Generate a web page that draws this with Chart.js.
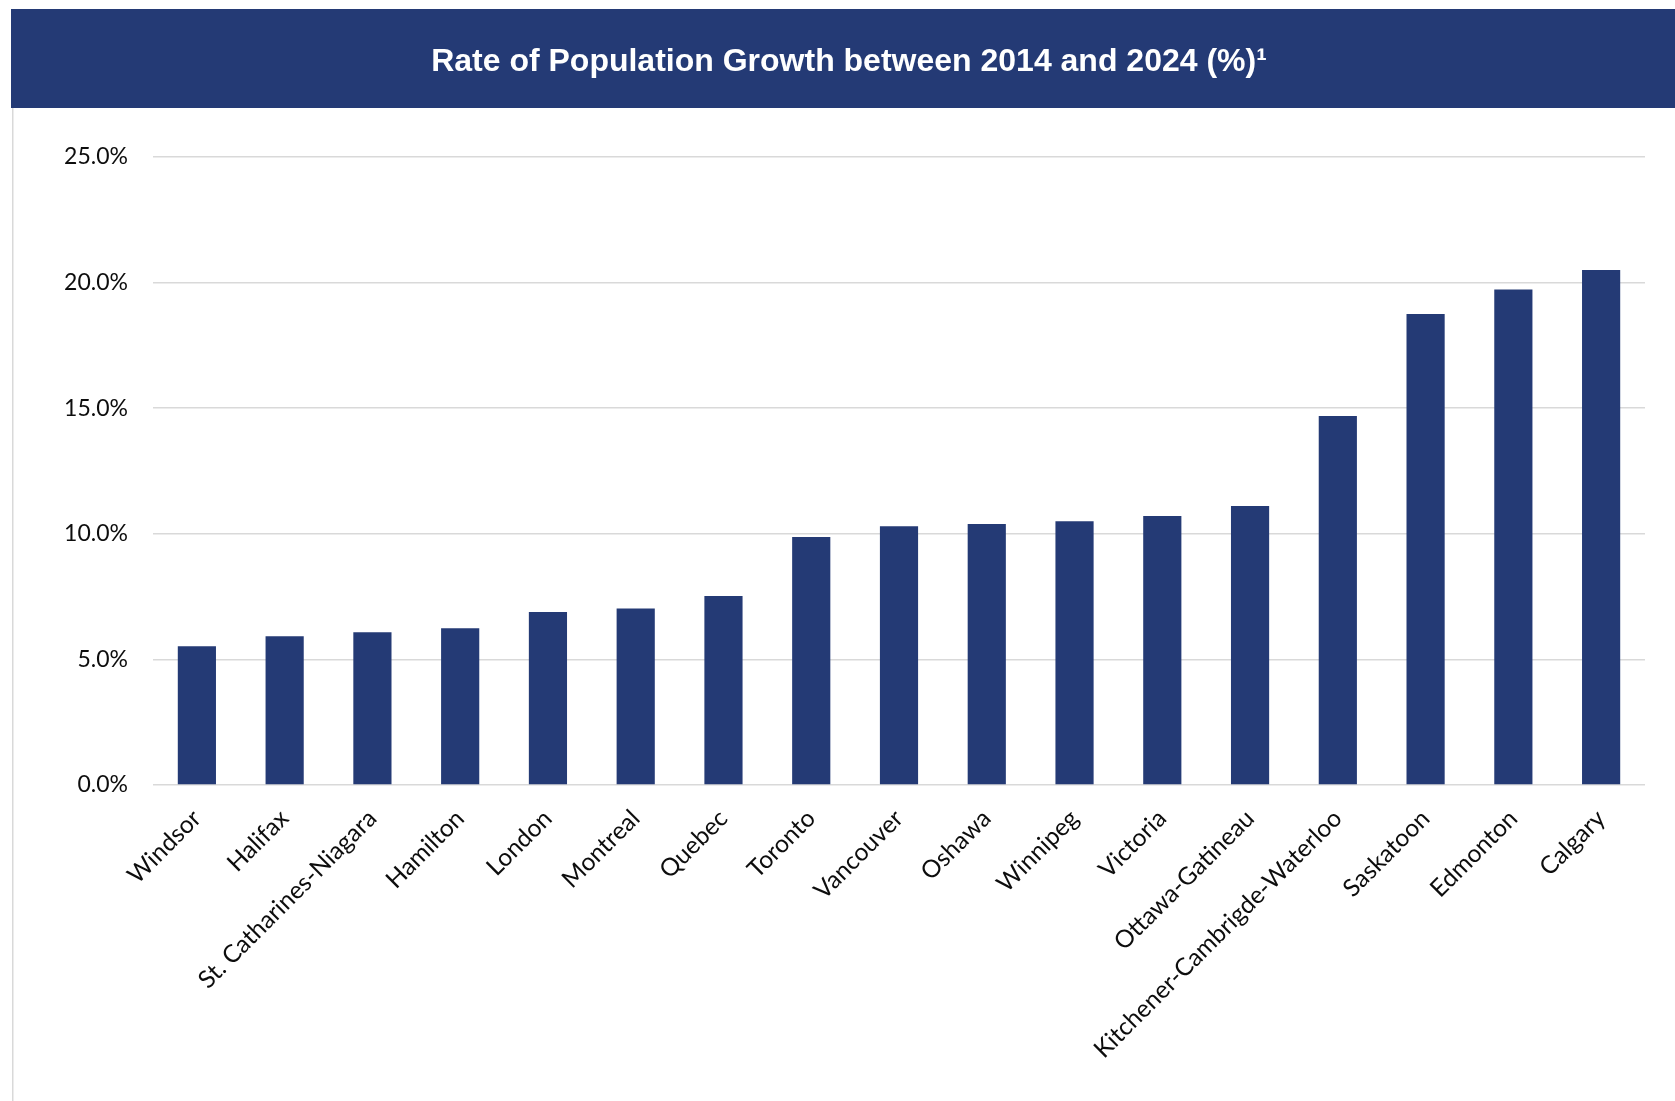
<!DOCTYPE html>
<html>
<head>
<meta charset="utf-8">
<script src="https://cdn.jsdelivr.net/npm/chart.js@4"></script>
<style>
  html, body { margin: 0; padding: 0; background: #fff; }
  #wrap { position: absolute; left: 0; top: 0; width: 1675px; height: 1101px; }
</style>
</head>
<body>
<div id="wrap"><canvas id="growth-chart"></canvas></div>
<script>
// cities, sorted by growth rate
var city_list = ["Windsor", "Halifax", "St. Catharines-Niagara", "Hamilton", "London", "Montreal", "Quebec",
  "Toronto", "Vancouver", "Oshawa", "Winnipeg", "Victoria", "Ottawa-Gatineau",
  "Kitchener-Cambrigde-Waterloo", "Saskatoon", "Edmonton", "Calgary"];

// growth between 2014 and 2024, in percent
var growth_values = [5.52, 5.92, 6.08, 6.24, 6.89, 7.03, 7.52, 9.87, 10.30, 10.39, 10.50, 10.71, 11.11,
  14.69, 18.75, 19.73, 20.50];

var y_ticks = [0, 5, 10, 15, 20, 25];

var title_text = "Rate of Population Growth between 2014 and 2024 (%)\u00b9";

var navy = "#243a75";

// paints the white page, the navy header band and the thin left rule
var header_band = {
  id: 'header_band',
  beforeDraw: function(chart) {
    var ctx = chart.ctx;
    ctx.save();
    ctx.fillStyle = "#ffffff";
    ctx.fillRect(0, 0, chart.width, chart.height);
    ctx.fillStyle = "#d9d9d9";
    ctx.fillRect(12, 108, 1.5, chart.height - 108);
    ctx.fillStyle = navy;
    ctx.fillRect(11, 9, chart.width - 11, 99);
    ctx.restore();
  }
};

new Chart(document.getElementById("growth-chart"), {
  type: 'bar',
  data: {
    labels: city_list,
    datasets: [{
      label: "Growth (%)",
      backgroundColor: navy,
      borderWidth: 0,
      barPercentage: 0.435,
      categoryPercentage: 1.0,
      data: growth_values
    }]
  },
  plugins: [header_band],
  options: {
    responsive: true,
    maintainAspectRatio: false,
    animation: false,
    // left padding also pushes the centred title a bit to the right
    layout: { padding: { top: 9, right: 30, left: 53, bottom: 0 } },
    plugins: {
      legend: { display: false },
      tooltip: { enabled: false },
      title: {
        display: true,
        text: title_text,
        color: "#ffffff",
        font: { family: "'Liberation Sans', Arial, sans-serif", size: 32, weight: 'bold', lineHeight: 1.2 },
        padding: { top: 34, bottom: 75.6 }
      }
    },
    scales: {
      x: {
        grid: { display: false },
        border: { display: false },
        ticks: {
          color: "#0d0d0d",
          font: { family: "Lato, 'Open Sans', sans-serif", size: 24.5 },
          minRotation: 45,
          maxRotation: 45,
          autoSkip: false,
          padding: 11
        },
        afterFit: function(scale) { scale.height = 316; }
      },
      y: {
        min: 0,
        max: 25,
        afterBuildTicks: function(scale) {
          scale.ticks = y_ticks.map(function(v) { return { value: v }; });
        },
        grid: { color: "#d9d9d9", lineWidth: 1.6, drawTicks: false },
        border: { display: false },
        ticks: {
          color: "#0d0d0d",
          font: { family: "Lato, 'Open Sans', sans-serif", size: 23 },
          padding: 25,
          callback: function(v) { return v.toFixed(1) + "%"; }
        },
        afterFit: function(scale) { scale.width = 100; }
      }
    }
  }
});
</script>
</body>
</html>
